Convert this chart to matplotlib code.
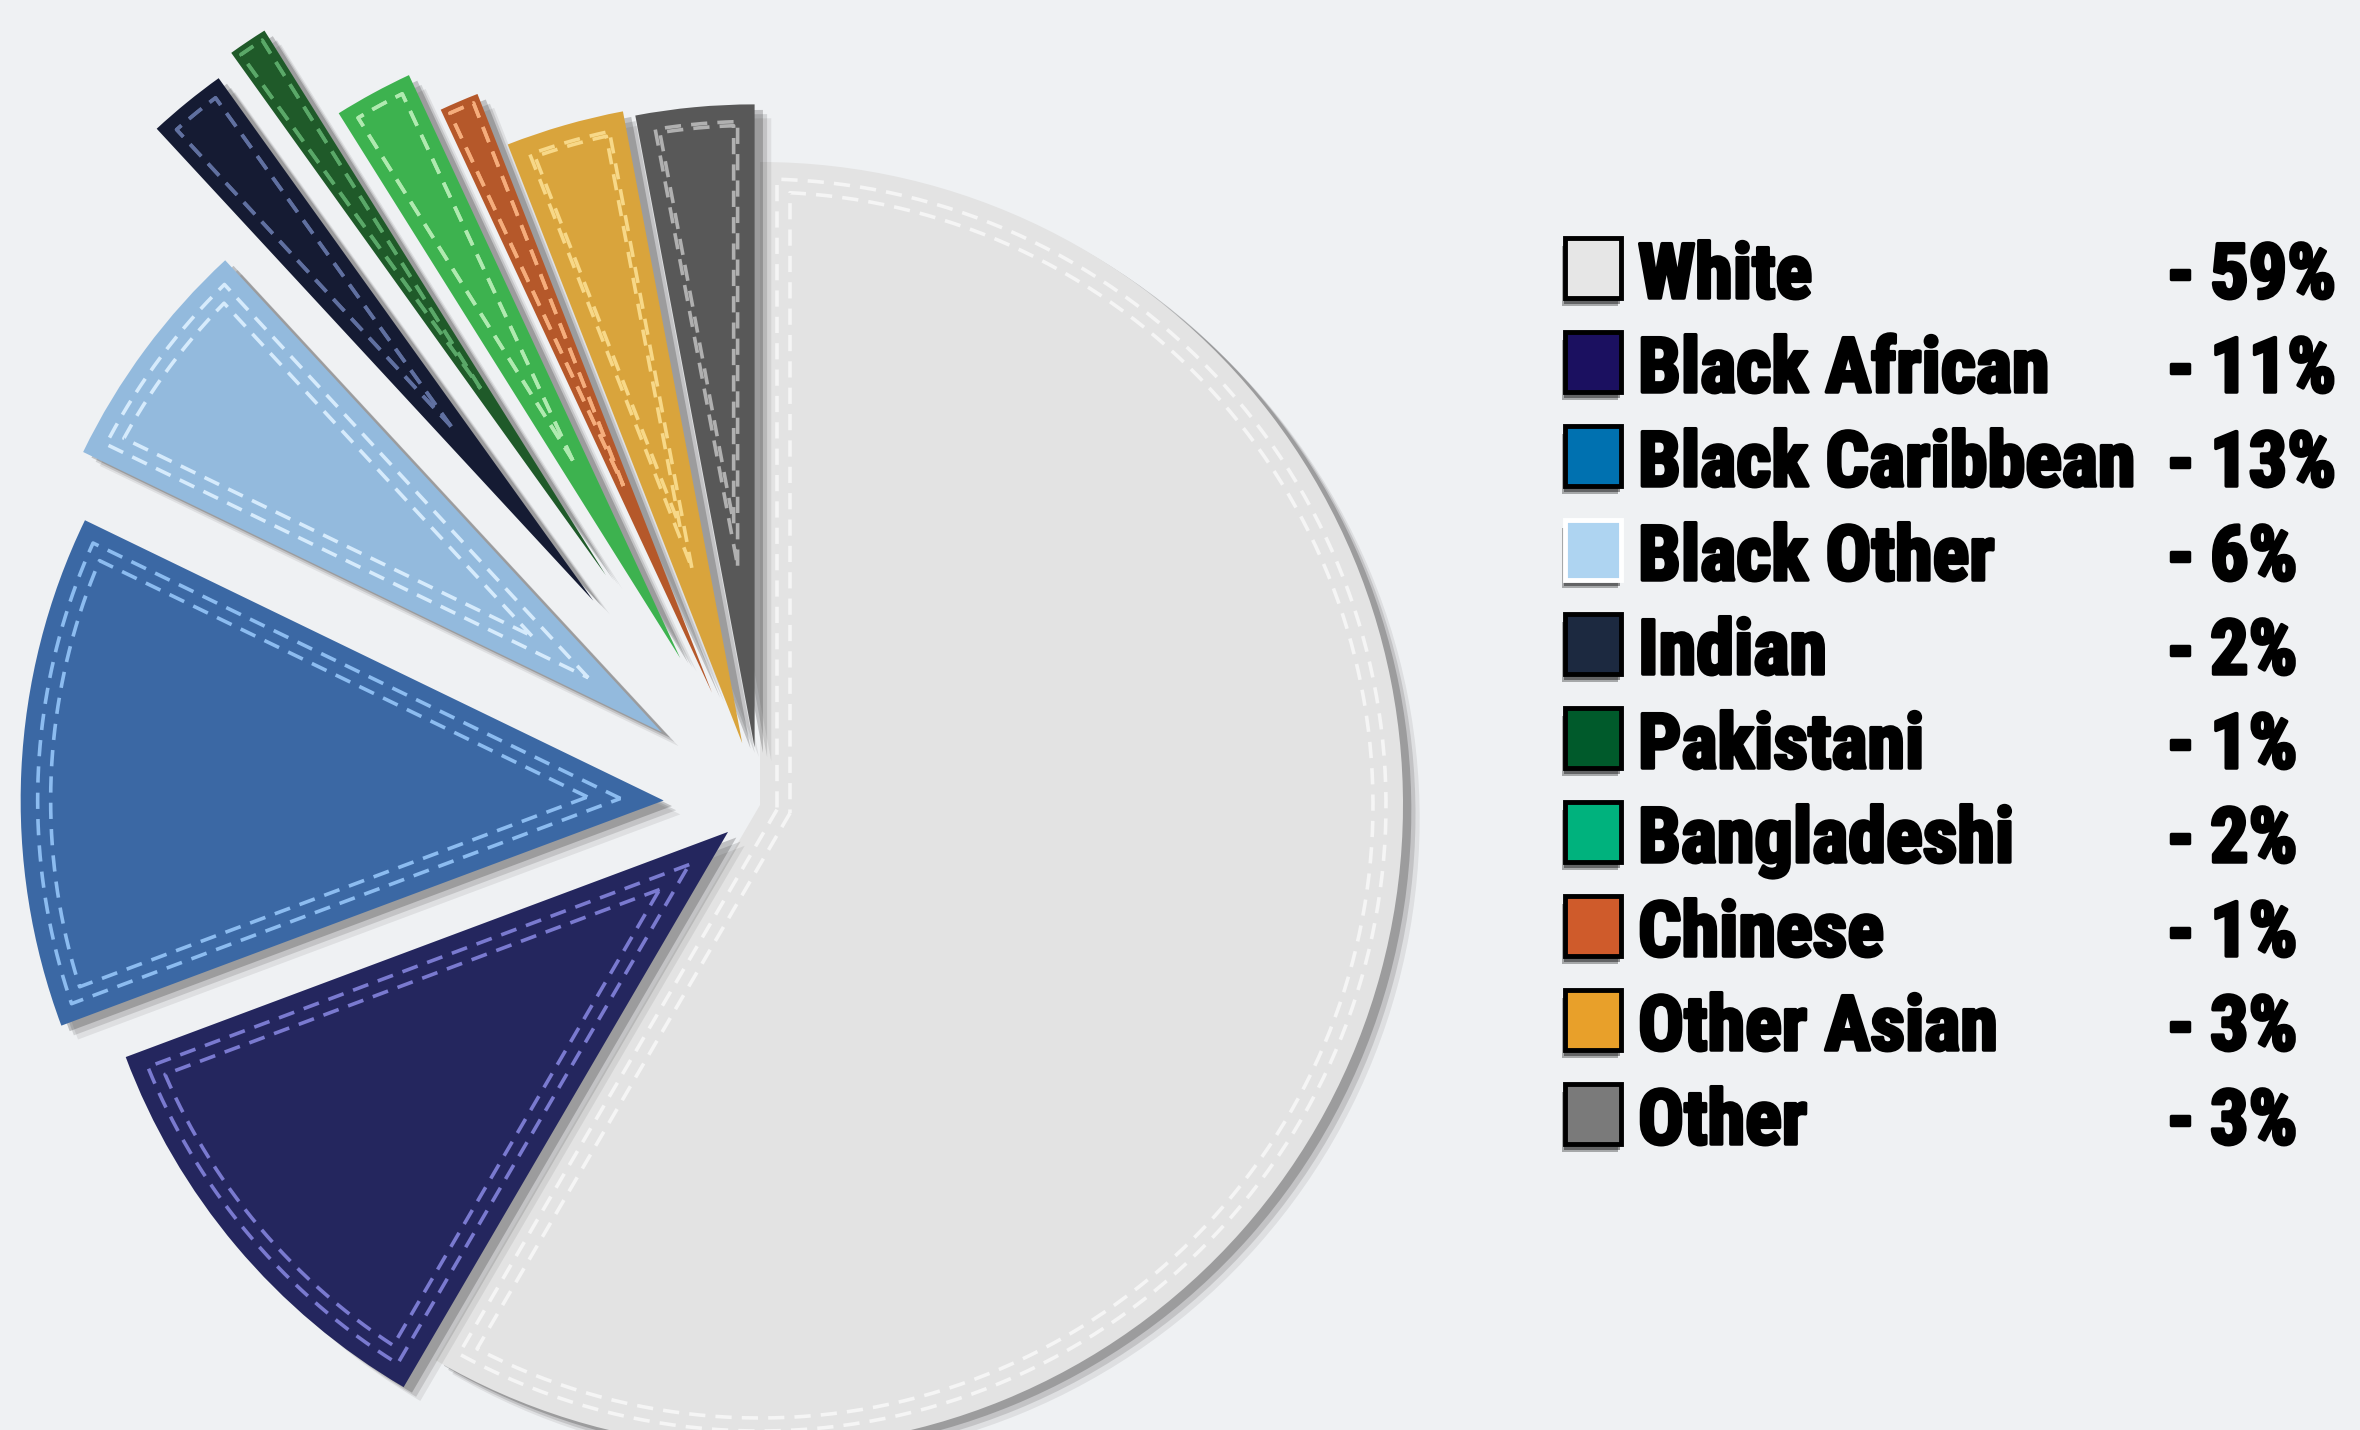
import numpy as np
import matplotlib
matplotlib.use("Agg")
import matplotlib.pyplot as plt
import matplotlib.patheffects as pe
from matplotlib.patches import Rectangle
from matplotlib import font_manager

# data
groups = ['White', 'Black African', 'Black Caribbean', 'Black Other', 'Indian',
          'Pakistani', 'Bangladeshi', 'Chinese', 'Other Asian', 'Other']
shares = [59, 11, 13, 6, 2, 1, 2, 1, 3, 3]
pct_labels = [f'{v}%' for v in shares]

# styles
slice_colors = ['#e3e3e3', '#24265e', '#3b68a4', '#93badd', '#151b33',
                '#1f5a29', '#3db24f', '#b5582a', '#d9a43c', '#585858']
stitch_colors = ['#f5f5f5', '#7a7ad0', '#8cbcf0', '#d6ebfc', '#6070a0',
                 '#5aa868', '#b0eab0', '#f5ad7c', '#f7d888', '#b0b0b0']
key_colors = ['#e6e6e6', '#1b1060', '#0071b0', '#aed4f1', '#1c2940',
              '#005a2b', '#00b27d', '#cf5b2b', '#e8a02a', '#7a7a7a']
key_edges = ['black'] * 10
key_edges[3] = 'white'
explode_frac = [0, 0.065, 0.15, 0.19, 0.41, 0.43, 0.26, 0.19, 0.10, 0.09]

W, H = 2360, 1430
BG = '#eff1f3'

names = {f.name for f in font_manager.fontManager.ttflist}
fam = 'DejaVu Sans'
for cand in ['Liberation Sans Narrow', 'DejaVu Sans Condensed', 'Roboto Condensed']:
    if cand in names:
        fam = cand
        break

fig = plt.figure(figsize=(W / 100, H / 100), dpi=100)
fig.patch.set_facecolor(BG)
ax = fig.add_axes([0, 0, 1, 1])

R = 643
cx, cy = 760, H - 805
wedges, _ = ax.pie(shares, colors=slice_colors, startangle=90, counterclock=False,
                   radius=R, center=(cx, cy), explode=[e * R for e in explode_frac],
                   wedgeprops=dict(linewidth=0))

shadow = [pe.SimplePatchShadow(offset=(12, -10), shadow_rgbFace='black', alpha=0.07),
          pe.SimplePatchShadow(offset=(9, -7), shadow_rgbFace='black', alpha=0.12),
          pe.SimplePatchShadow(offset=(6, -4), shadow_rgbFace='black', alpha=0.2),
          pe.Normal()]
for w in wedges:
    w.set_path_effects(shadow)


def stitch_path(w, d):
    c = np.array(w.center)
    r = w.r
    t1, t2 = np.radians(w.theta1), np.radians(w.theta2)
    h = (t2 - t1) / 2
    tm = (t1 + t2) / 2
    d = min(d, 0.35 * r * np.sin(min(h, np.pi / 2)))
    a = np.arcsin(d / (r - d))
    p1, p2 = t1 + a, t2 - a
    if p2 <= p1:
        return None
    apex = c + d / np.sin(h) * np.array([np.cos(tm), np.sin(tm)])
    phi = np.linspace(p1, p2, 300)
    xs = np.concatenate([[apex[0]], c[0] + (r - d) * np.cos(phi), [apex[0]]])
    ys = np.concatenate([[apex[1]], c[1] + (r - d) * np.sin(phi), [apex[1]]])
    return xs, ys


for w, sc in zip(wedges, stitch_colors):
    for d in (17, 30):
        p = stitch_path(w, d)
        if p is not None:
            ax.plot(p[0], p[1], color=sc, lw=2.6, ls=(0, (4.5, 2.8)), zorder=3,
                    dash_capstyle='butt')

# legend block
step = 94
heavy = [pe.withStroke(linewidth=2.5, foreground='black')]
for i, (g, p, kc, ke) in enumerate(zip(groups, pct_labels, key_colors, key_edges)):
    top = H - (238 + step * i)
    bottom = top - 60
    sq = Rectangle((1565, bottom), 56, 60, facecolor=kc, edgecolor=ke, lw=3.5, zorder=4)
    sq.set_path_effects([pe.SimplePatchShadow(offset=(-2, -6), shadow_rgbFace='black', alpha=0.3),
                         pe.SimplePatchShadow(offset=(-1, -4), shadow_rgbFace='black', alpha=0.4),
                         pe.Normal()])
    ax.add_patch(sq)
    kw = dict(fontsize=55, fontweight='bold', family=fam, va='baseline', ha='left',
              color='black', zorder=5, path_effects=heavy)
    ax.text(1638, bottom, g, **kw)
    ax.text(2166, bottom, '-', **kw)
    ax.text(2210, bottom, p, **kw)

ax.set_xlim(0, W)
ax.set_ylim(0, H)
ax.set_aspect('equal')
ax.axis('off')

fig.savefig('out.png', dpi=100, facecolor=BG)
